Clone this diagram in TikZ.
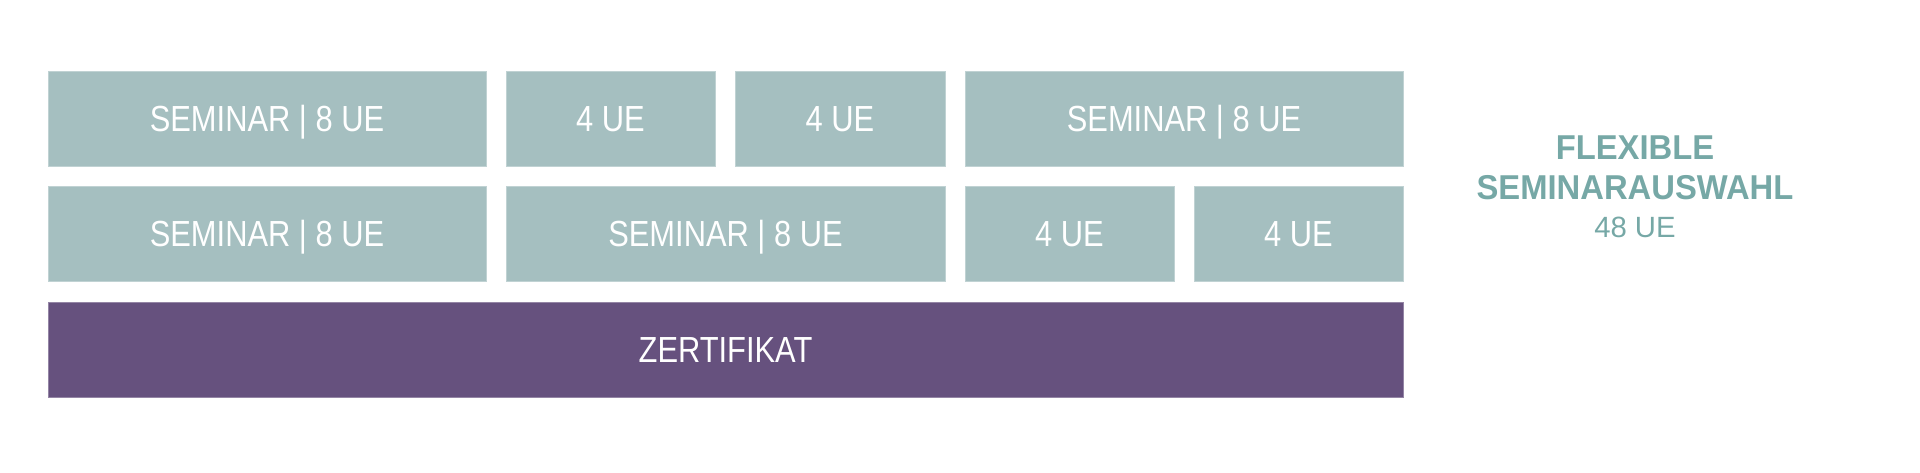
\documentclass[tikz,border=0pt]{standalone}
\usepackage{fontspec}
\setmainfont{Liberation Sans}
\newfontfamily\boxfont[FakeStretch=0.85]{Liberation Sans}
\newfontfamily\headfont[FakeStretch=0.95]{Liberation Sans Bold}
\definecolor{tealbox}{HTML}{A5BFC0}
\definecolor{purplebox}{HTML}{66517E}
\definecolor{headteal}{HTML}{76A8A6}
\tikzset{
  blockbase/.style={rectangle, inner sep=0pt, outer sep=0pt, text=white,
    font=\boxfont\fontsize{36.3}{40}\selectfont,
    text height=26pt, text depth=0pt, align=center},
  tealblock/.style={blockbase, fill=tealbox, draw=tealbox!70!white, line width=0.6pt},
  purpleblock/.style={blockbase, fill=purplebox, draw=purplebox!70!white, line width=0.6pt},
  headline/.style={anchor=base, inner sep=0pt, text=headteal,
    font=\headfont\fontsize{34.5}{38}\selectfont},
  subline/.style={anchor=base, inner sep=0pt, text=headteal,
    font=\fontsize{29.3}{32}\selectfont}
}
\begin{document}
\begin{tikzpicture}[x=1pt,y=-1pt]
\useasboundingbox (0,0) rectangle (1920,473);
% row 1
\node[tealblock, minimum width=438pt, minimum height=95pt] (r1a) at (267,118.5) {SEMINAR | 8 UE};
\node[tealblock, minimum width=209pt, minimum height=95pt] (r1b) at (610.5,118.5) {4 UE};
\node[tealblock, minimum width=210pt, minimum height=95pt] (r1c) at (840,118.5) {4 UE};
\node[tealblock, minimum width=438pt, minimum height=95pt] (r1d) at (1184,118.5) {SEMINAR | 8 UE};
% row 2
\node[tealblock, minimum width=438pt, minimum height=95pt] (r2a) at (267,233.5) {SEMINAR | 8 UE};
\node[tealblock, minimum width=439pt, minimum height=95pt] (r2b) at (725.5,233.5) {SEMINAR | 8 UE};
\node[tealblock, minimum width=209pt, minimum height=95pt] (r2c) at (1069.5,233.5) {4 UE};
\node[tealblock, minimum width=209pt, minimum height=95pt] (r2d) at (1298.5,233.5) {4 UE};
% row 3
\node[purpleblock, minimum width=1355pt, minimum height=95pt] (cert) at (725.5,349.5) {ZERTIFIKAT};
% side text
\node[headline] (h1) at (1635,160) {FLEXIBLE};
\node[headline] (h2) at (1635,199.5) {SEMINARAUSWAHL};
\node[subline] (h3) at (1635,238) {48 UE};
\end{tikzpicture}
\end{document}
